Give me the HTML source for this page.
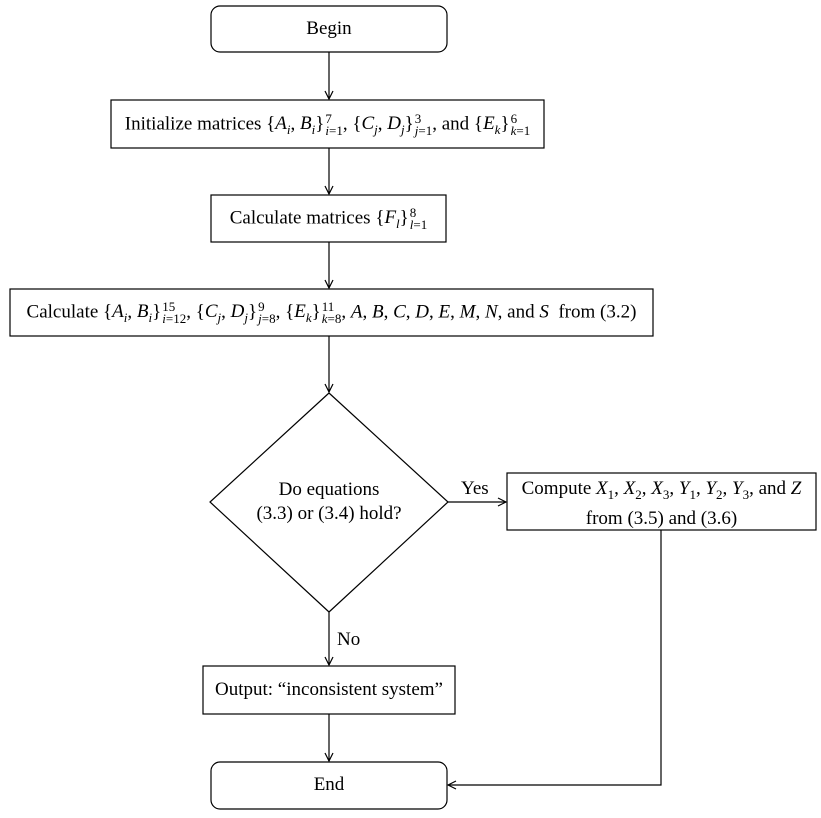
<!DOCTYPE html>
<html><head><meta charset="utf-8"><style>
body{margin:0;background:#fff;width:821px;height:818px;position:relative;overflow:hidden;font-family:"Liberation Serif",serif;font-size:19px;color:#000}
.t{position:absolute;text-align:center;white-space:nowrap;line-height:22px}
i{font-style:italic}
sub{font-size:13px}
.s{display:inline-block;vertical-align:middle;line-height:12px;font-size:13px;text-align:left;margin-left:1px}
.s span{display:block}
</style></head><body>
<svg width="821" height="818" style="position:absolute;left:0;top:0" fill="none" stroke="#000" stroke-width="1.2">
<defs><marker id="a" markerWidth="10" markerHeight="10" refX="9" refY="5" orient="auto" markerUnits="userSpaceOnUse"><path d="M1,1 L9,5 L1,9" stroke="#000" fill="none" stroke-width="1.2"/></marker></defs>
<rect x="211" y="6" width="236" height="46" rx="9"/>
<rect x="111" y="100" width="433" height="48"/>
<rect x="211" y="195" width="235" height="47"/>
<rect x="10" y="289" width="643" height="47"/>
<polygon points="329,393 448,502 329,612 210,502"/>
<rect x="507" y="473" width="309" height="57"/>
<rect x="203" y="666" width="252" height="48"/>
<rect x="211" y="762" width="236" height="47" rx="9"/>
<line x1="329" y1="52" x2="329" y2="99" marker-end="url(#a)"/>
<line x1="329" y1="148" x2="329" y2="194" marker-end="url(#a)"/>
<line x1="329" y1="242" x2="329" y2="288" marker-end="url(#a)"/>
<line x1="329" y1="336" x2="329" y2="392" marker-end="url(#a)"/>
<line x1="448" y1="502" x2="506" y2="502" marker-end="url(#a)"/>
<line x1="329" y1="612" x2="329" y2="665" marker-end="url(#a)"/>
<line x1="329" y1="714" x2="329" y2="761" marker-end="url(#a)"/>
<polyline points="661,530 661,785 448,785" marker-end="url(#a)"/>
</svg>
<div class="t" style="left:111px;width:433px;top:113px">Initialize matrices {<i>A<sub>i</sub></i>, <i>B<sub>i</sub></i>}<span class="s"><span>7</span><span><i>i</i>=1</span></span>, {<i>C<sub>j</sub></i>, <i>D<sub>j</sub></i>}<span class="s"><span>3</span><span><i>j</i>=1</span></span>, and {<i>E<sub>k</sub></i>}<span class="s"><span>6</span><span><i>k</i>=1</span></span></div>
<div class="t" style="left:211px;width:236px;top:18px">Begin</div>
<div class="t" style="left:211px;width:235px;top:207px">Calculate matrices {<i>F<sub>l</sub></i>}<span class="s"><span>8</span><span><i>l</i>=1</span></span></div>
<div class="t" style="left:10px;width:643px;top:301px">Calculate {<i>A<sub>i</sub></i>, <i>B<sub>i</sub></i>}<span class="s"><span>15</span><span><i>i</i>=12</span></span>, {<i>C<sub>j</sub></i>, <i>D<sub>j</sub></i>}<span class="s"><span>9</span><span><i>j</i>=8</span></span>, {<i>E<sub>k</sub></i>}<span class="s"><span>11</span><span><i>k</i>=8</span></span>, <i>A</i>, <i>B</i>, <i>C</i>, <i>D</i>, <i>E</i>, <i>M</i>, <i>N</i>, and <i>S</i>&nbsp; from (3.2)</div>
<div class="t" style="left:210px;width:238px;top:478px;line-height:24px">Do equations<br>(3.3) or (3.4) hold?</div>
<div class="t" style="left:461px;top:478px">Yes</div>
<div class="t" style="left:507px;width:309px;top:477px;line-height:24px">Compute <i>X</i><sub>1</sub>, <i>X</i><sub>2</sub>, <i>X</i><sub>3</sub>, <i>Y</i><sub>1</sub>, <i>Y</i><sub>2</sub>, <i>Y</i><sub>3</sub>, and <i>Z</i><br>from (3.5) and (3.6)</div>
<div class="t" style="left:337px;top:629px">No</div>
<div class="t" style="left:203px;width:252px;top:679px">Output: “inconsistent system”</div>
<div class="t" style="left:211px;width:236px;top:774px">End</div>
</body></html>
